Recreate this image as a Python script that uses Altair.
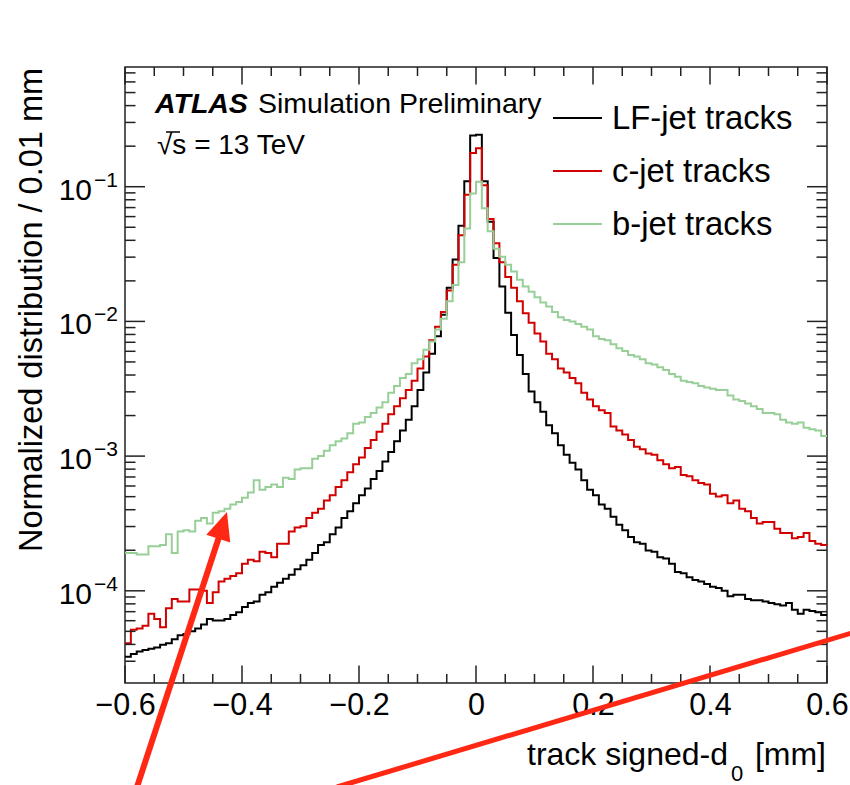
import altair as alt
import pandas as pd

# ---------------- data (log10 of normalized entries per 0.01 mm bin) -------------
bin_low = -0.6
bin_width = 0.01

lf_log10 = [
    -4.49, -4.47, -4.45, -4.44, -4.43, -4.42, -4.40, -4.39, -4.36, -4.33,
    -4.32, -4.30, -4.28, -4.25, -4.21, -4.22, -4.22, -4.21, -4.18, -4.16,
    -4.12, -4.09, -4.08, -4.03, -4.01, -3.97, -3.94, -3.91, -3.88, -3.84,
    -3.81, -3.77, -3.72, -3.66, -3.64, -3.58, -3.53, -3.46, -3.41, -3.35,
    -3.29, -3.24, -3.17, -3.11, -3.04, -2.97, -2.89, -2.81, -2.73, -2.63,
    -2.51, -2.38, -2.24, -2.11, -1.95, -1.75, -1.54, -1.29, -0.96, -0.62,
    -0.615, -0.96, -1.26, -1.53, -1.74, -1.935, -2.10, -2.25, -2.39, -2.52,
    -2.60, -2.67, -2.77, -2.83, -2.92, -2.99, -3.05, -3.10, -3.18, -3.25,
    -3.29, -3.36, -3.39, -3.45, -3.51, -3.55, -3.60, -3.64, -3.65, -3.70,
    -3.71, -3.75, -3.76, -3.80, -3.86, -3.87, -3.90, -3.92, -3.93, -3.95,
    -3.97, -3.98, -4.00, -4.04, -4.03, -4.03, -4.06, -4.07, -4.07, -4.08,
    -4.09, -4.10, -4.11, -4.09, -4.14, -4.17, -4.14, -4.15, -4.16, -4.18,
]

c_log10 = [
    -4.39, -4.29, -4.28, -4.26, -4.17, -4.21, -4.27, -4.13, -4.06, -4.08,
    -4.08, -3.99, -3.99, -4.00, -4.09, -4.01, -3.93, -3.91, -3.89, -3.87,
    -3.80, -3.77, -3.78, -3.71, -3.72, -3.75, -3.65, -3.65, -3.56, -3.53,
    -3.52, -3.46, -3.42, -3.39, -3.33, -3.29, -3.23, -3.18, -3.12, -3.06,
    -3.01, -2.94, -2.88, -2.82, -2.76, -2.69, -2.63, -2.57, -2.51, -2.44,
    -2.35, -2.26, -2.14, -2.04, -1.93, -1.77, -1.58, -1.36, -1.06, -0.75,
    -0.715, -0.99, -1.24, -1.42, -1.56, -1.67, -1.75, -1.85, -1.94, -2.01,
    -2.09, -2.15, -2.24, -2.28, -2.35, -2.38, -2.42, -2.46, -2.53, -2.58,
    -2.63, -2.66, -2.68, -2.78, -2.81, -2.84, -2.88, -2.93, -2.95, -2.98,
    -2.99, -3.03, -3.06, -3.09, -3.08, -3.14, -3.15, -3.18, -3.20, -3.21,
    -3.28, -3.30, -3.29, -3.35, -3.33, -3.39, -3.41, -3.46, -3.50, -3.49,
    -3.49, -3.54, -3.57, -3.57, -3.61, -3.60, -3.57, -3.63, -3.65, -3.66,
]

b_log10 = [
    -3.72, -3.72, -3.73, -3.73, -3.67, -3.67, -3.66, -3.58, -3.72, -3.56,
    -3.55, -3.56, -3.48, -3.46, -3.50, -3.42, -3.41, -3.39, -3.36, -3.34,
    -3.31, -3.27, -3.18, -3.25, -3.23, -3.21, -3.23, -3.16, -3.17, -3.10,
    -3.09, -3.09, -3.02, -3.00, -2.96, -2.92, -2.89, -2.87, -2.83, -2.76,
    -2.75, -2.71, -2.68, -2.64, -2.60, -2.53, -2.48, -2.42, -2.39, -2.31,
    -2.28, -2.21, -2.15, -2.06, -1.98, -1.85, -1.73, -1.56, -1.31, -1.05,
    -0.963, -1.16, -1.33, -1.46, -1.52, -1.58, -1.63, -1.69, -1.74, -1.78,
    -1.82, -1.86, -1.89, -1.93, -1.97, -1.99, -2.00, -2.02, -2.04, -2.06,
    -2.11, -2.13, -2.14, -2.17, -2.20, -2.22, -2.25, -2.26, -2.28, -2.31,
    -2.32, -2.34, -2.36, -2.39, -2.41, -2.44, -2.45, -2.46, -2.48, -2.49,
    -2.50, -2.51, -2.51, -2.55, -2.58, -2.59, -2.61, -2.63, -2.65, -2.68,
    -2.68, -2.69, -2.73, -2.75, -2.76, -2.75, -2.79, -2.80, -2.81, -2.85,
]

series_names = ["LF-jet tracks", "c-jet tracks", "b-jet tracks"]
series_colors = ["#000000", "#d20000", "#98cf98"]
series_data = [lf_log10, c_log10, b_log10]

x_major = [-0.6, -0.4, -0.2, 0.0, 0.2, 0.4, 0.6]
x_minor = [-0.55, -0.5, -0.45, -0.35, -0.3, -0.25, -0.15, -0.1, -0.05,
           0.05, 0.1, 0.15, 0.25, 0.3, 0.35, 0.45, 0.5, 0.55]
y_major = [1e-4, 1e-3, 1e-2, 1e-1]
y_major_sup = ["\u22124", "\u22123", "\u22122", "\u22121"]
y_minor = [3e-5, 4e-5, 5e-5, 6e-5, 7e-5, 8e-5, 9e-5,
           2e-4, 3e-4, 4e-4, 5e-4, 6e-4, 7e-4, 8e-4, 9e-4,
           2e-3, 3e-3, 4e-3, 5e-3, 6e-3, 7e-3, 8e-3, 9e-3,
           2e-2, 3e-2, 4e-2, 5e-2, 6e-2, 7e-2, 8e-2, 9e-2,
           2e-1, 3e-1, 4e-1, 5e-1, 6e-1, 7e-1]

# ---------------- layout ----------------
W, H = 702, 616
FONT = "Liberation Sans"
x_dom = [-0.6, 0.6]
y_dom = [2.068e-5, 0.774]

x_axis = alt.Axis(values=x_major, ticks=False, tickSize=0, domain=False, grid=False,
                  labelFont=FONT, labelFontSize=30.5, labelColor="black", labelPadding=7,
                  labelFlush=False, labelOverlap=False,
                  labelExpr="datum.value == 0 ? '0' : format(datum.value, '.1f')",
                  title=None)
X = alt.X("x:Q", scale=alt.Scale(domain=x_dom, nice=False, zero=False), axis=x_axis)
Y = alt.Y("y:Q", scale=alt.Scale(type="log", domain=y_dom, nice=False), axis=None)

layers = []

# histograms as step lines
for name, color, vals in zip(series_names, series_colors, series_data):
    xs = [round(bin_low + bin_width * i, 2) for i in range(len(vals))] + [0.6]
    ys = [10 ** v for v in vals] + [10 ** vals[-1]]
    df = pd.DataFrame({"x": xs, "y": ys})
    layers.append(
        alt.Chart(df).mark_line(interpolate="step-after", strokeWidth=2, color=color, clip=True)
        .encode(x=X, y=Y, order="x:Q")
    )

# ticks (inside the frame, on all four sides)
tick_color = "#222222"
df_xmaj = pd.DataFrame({"x": x_major})
df_xmin = pd.DataFrame({"x": x_minor})
df_ymaj = pd.DataFrame({"y": y_major, "sup": y_major_sup})
df_ymin = pd.DataFrame({"y": y_minor})
for d, L in [(df_xmaj, 17.5), (df_xmin, 9)]:
    layers.append(alt.Chart(d).mark_rule(color=tick_color, strokeWidth=1.5)
                  .encode(x=X, y=alt.value(H), y2=alt.value(H - L)))
    layers.append(alt.Chart(d).mark_rule(color=tick_color, strokeWidth=1.5)
                  .encode(x=X, y=alt.value(0), y2=alt.value(L)))
for d, L in [(df_ymaj, 20), (df_ymin, 10.5)]:
    layers.append(alt.Chart(d).mark_rule(color=tick_color, strokeWidth=1.5)
                  .encode(y=Y, x=alt.value(0), x2=alt.value(L)))
    layers.append(alt.Chart(d).mark_rule(color=tick_color, strokeWidth=1.5)
                  .encode(y=Y, x=alt.value(W - L), x2=alt.value(W)))

# y tick labels 10^n
layers.append(alt.Chart(df_ymaj).mark_text(font=FONT, fontSize=30, align="right", baseline="alphabetic",
                                           dy=13, color="black")
              .encode(y=Y, x=alt.value(-33), text=alt.value("10")))
layers.append(alt.Chart(df_ymaj).mark_text(font=FONT, fontSize=21, align="left", baseline="alphabetic",
                                           dy=0, color="black")
              .encode(y=Y, x=alt.value(-31), text="sup:N"))

one = pd.DataFrame({"a": [0]})

def txt(s, x, y, size, align="left", **kw):
    return alt.Chart(one).mark_text(font=FONT, fontSize=size, align=align, baseline="alphabetic",
                                    color="black", **kw).encode(
        x=alt.value(x), y=alt.value(y), text=alt.value(s))

# axis titles
layers.append(txt("Normalized distribution / 0.01 mm", -83, 243, 32.5, align="center", angle=270))
layers.append(txt("track signed-d", 603, 698, 32, align="right"))
layers.append(txt("0", 606, 714, 22))
layers.append(txt("[mm]", 701, 698, 32, align="right"))

# ATLAS label
layers.append(txt("ATLAS", 30, 46, 28.5, fontStyle="italic", fontWeight="bold"))
layers.append(txt("Simulation Preliminary", 133, 46, 28.5))
layers.append(txt("\u221as = 13 TeV", 32, 87, 28))
layers.append(alt.Chart(one).mark_rule(color="black", strokeWidth=1.5)
              .encode(x=alt.value(41), x2=alt.value(55), y=alt.value(65)))

# legend
leg_y = [51, 104, 157]
for name, color, yy in zip(series_names, series_colors, leg_y):
    layers.append(alt.Chart(one).mark_rule(color=color, strokeWidth=2)
                  .encode(x=alt.value(428), x2=alt.value(477), y=alt.value(yy)))
    layers.append(txt(name, 487, yy + 11, 32.8))

# red annotation overlays
red = "#ff2814"
layers.append(alt.Chart(one).mark_rule(color=red, strokeWidth=6)
              .encode(x=alt.value(12), y=alt.value(720), x2=alt.value(94), y2=alt.value(470)))
layers.append(alt.Chart(one).mark_point(shape="M0,-1L0.9,1L-0.9,1Z", filled=True, size=784,
                                        angle=18, color=red, opacity=1, strokeWidth=0)
              .encode(x=alt.value(97.6), y=alt.value(458.3)))
layers.append(alt.Chart(one).mark_rule(color=red, strokeWidth=5)
              .encode(x=alt.value(212), y=alt.value(720), x2=alt.value(730), y2=alt.value(565)))

chart = alt.layer(*layers).properties(
    width=W, height=H,
    padding={"left": 125, "top": 67, "right": 23, "bottom": 102},
    autosize="none",
).configure_view(stroke="#222222", strokeWidth=1.5)

chart.save("out.html", embed_options={"renderer": "svg", "actions": False})
